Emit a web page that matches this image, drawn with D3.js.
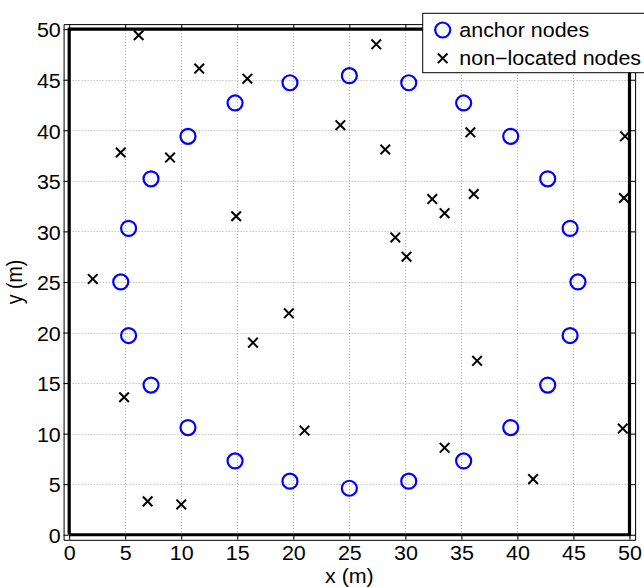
<!DOCTYPE html>
<html>
<head>
<meta charset="utf-8">
<script src="https://cdn.jsdelivr.net/npm/d3@7"></script>
<style>
  html, body { margin: 0; padding: 0; background: #fff; }
  svg { display: block; font-family: "Liberation Sans", Arial, Helvetica, sans-serif; }
</style>
</head>
<body>
<svg id="chart" width="644" height="587"></svg>
<script>
// Anchor node positions (m)
const anchorX = [25.0, 30.3, 35.2, 39.4, 42.7, 44.7, 45.4, 44.7, 42.7, 39.4, 35.2, 30.3,
                 25.0, 19.7, 14.8, 10.6, 7.3, 5.3, 4.6, 5.3, 7.3, 10.6, 14.8, 19.7];
const anchorY = [45.4, 44.7, 42.7, 39.4, 35.2, 30.3, 25.0, 19.7, 14.8, 10.6, 7.3, 5.3,
                 4.6, 5.3, 7.3, 10.6, 14.8, 19.7, 25.0, 30.3, 35.2, 39.4, 42.7, 44.7];

// Non-located node positions (m)
const nodeX = [6.2, 11.6, 15.9, 24.2, 4.6, 9.0, 14.9, 2.1,
               27.4, 35.8, 28.2, 49.6, 32.4, 36.1, 33.5, 49.5, 29.1, 30.1,
               19.6, 16.4, 4.9, 21.0, 7.0, 10.0,
               36.4, 33.5, 49.4, 41.4];
const nodeY = [49.4, 46.1, 45.1, 40.5, 37.8, 37.3, 31.5, 25.3,
               48.5, 39.8, 38.1, 39.4, 33.2, 33.7, 31.8, 33.3, 29.4, 27.5,
               21.9, 19.0, 13.6, 10.3, 3.3, 3.0,
               17.2, 8.6, 10.5, 5.5];

// Axis ticks
const xTicks = [0, 5, 10, 15, 20, 25, 30, 35, 40, 45, 50];
const yTicks = [0, 5, 10, 15, 20, 25, 30, 35, 40, 45, 50];

// Deployment field boundary
const fieldX = [0, 50, 50, 0, 0];
const fieldY = [0, 0, 50, 50, 0];

const legendLabels = ["anchor nodes", "non\u2212located nodes"];

const FS = 19.5;        // font size
const SX = 1.1;         // horizontal text stretch

const svg = d3.select("#chart");
svg.append("rect").attr("width", 644).attr("height", 587).attr("fill", "#fff");

const x = d3.scaleLinear().domain([-0.5, 50.5]).range([63.6, 635.1]);
const y = d3.scaleLinear().domain([-0.5, 50.5]).range([539.8, 24.1]);

const [x0, x1] = x.range();
const [y0, y1] = y.range();

// Dotted grid
const grid = svg.append("g")
  .attr("stroke", "#aaaaaa")
  .attr("stroke-width", 1)
  .attr("stroke-dasharray", "1,2");
grid.selectAll(".gx").data(xTicks).join("line")
  .attr("x1", d => Math.round(x(d)) + 0.5).attr("x2", d => Math.round(x(d)) + 0.5)
  .attr("y1", y1).attr("y2", y0);
grid.selectAll(".gy").data(yTicks).join("line")
  .attr("y1", d => Math.round(y(d)) + 0.5).attr("y2", d => Math.round(y(d)) + 0.5)
  .attr("x1", x0).attr("x2", x1);

// Axes with inward ticks
const TL = 5;
const gB = svg.append("g").attr("transform", `translate(0,${y0})`)
  .call(d3.axisBottom(x).tickValues(xTicks).tickSizeInner(-TL).tickSizeOuter(0).tickPadding(6));
const gT = svg.append("g").attr("transform", `translate(0,${y1})`)
  .call(d3.axisTop(x).tickValues(xTicks).tickSizeInner(-TL).tickSizeOuter(0).tickFormat(""));
const gL = svg.append("g").attr("transform", `translate(${x0},0)`)
  .call(d3.axisLeft(y).tickValues(yTicks).tickSizeInner(-TL).tickSizeOuter(0).tickPadding(2.6));
const gR = svg.append("g").attr("transform", `translate(${x1},0)`)
  .call(d3.axisRight(y).tickValues(yTicks).tickSizeInner(-TL).tickSizeOuter(0).tickFormat(""));

[gB, gT, gL, gR].forEach(g => {
  g.attr("font-family", null).attr("font-size", null);
  g.selectAll("path.domain").attr("stroke", "#000").attr("stroke-width", 1);
  g.selectAll(".tick line").attr("stroke", "#000").attr("stroke-width", 1);
  g.selectAll(".tick text")
    .attr("fill", "#000")
    .style("font-size", FS + "px")
    .attr("transform", `scale(${SX},1)`);
});
gL.selectAll(".tick text").attr("dy", "0.4em");

// Field boundary
svg.append("path")
  .datum(fieldX.map((d, i) => [d, fieldY[i]]))
  .attr("d", d3.line().x(d => x(d[0])).y(d => y(d[1])))
  .attr("fill", "none")
  .attr("stroke", "#000")
  .attr("stroke-width", 3.2)
  .attr("stroke-linejoin", "miter");

// Markers
const R = 7.5;
const H = 4.8;
const crossPath = `M${-H},${-H}L${H},${H}M${-H},${H}L${H},${-H}`;

svg.append("g").selectAll("circle")
  .data(anchorX.map((d, i) => [d, anchorY[i]]))
  .join("circle")
  .attr("cx", d => x(d[0]))
  .attr("cy", d => y(d[1]))
  .attr("r", R)
  .attr("fill", "none")
  .attr("stroke", "#0000ff")
  .attr("stroke-width", 2.2);

svg.append("g").selectAll("path")
  .data(nodeX.map((d, i) => [d, nodeY[i]]))
  .join("path")
  .attr("transform", d => `translate(${x(d[0])},${y(d[1])})`)
  .attr("d", crossPath)
  .attr("stroke", "#000")
  .attr("stroke-width", 2);

// Legend
const lg = svg.append("g");
lg.append("rect")
  .attr("x", 422.7).attr("y", 13.3)
  .attr("width", 260).attr("height", 59.4)
  .attr("fill", "#fff").attr("stroke", "#000").attr("stroke-width", 1);
lg.append("circle")
  .attr("cx", 442.7).attr("cy", 30).attr("r", R)
  .attr("fill", "none").attr("stroke", "#0000ff").attr("stroke-width", 2.2);
lg.append("path")
  .attr("transform", "translate(442.7,58.3)")
  .attr("d", crossPath)
  .attr("stroke", "#000").attr("stroke-width", 2);
lg.selectAll("text").data(legendLabels).join("text")
  .attr("transform", (d, i) => `translate(459.3,${i === 0 ? 36.7 : 65}) scale(${SX},1)`)
  .style("font-size", FS + "px")
  .attr("fill", "#000")
  .text(d => d);

// Axis titles
svg.append("text")
  .attr("transform", `translate(${(x0 + x1) / 2},583) scale(${SX},1)`)
  .attr("text-anchor", "middle")
  .style("font-size", FS + "px")
  .text("x (m)");
svg.append("text")
  .attr("transform", `translate(22,${(y0 + y1) / 2}) rotate(-90) scale(1,${SX})`)
  .attr("text-anchor", "middle")
  .style("font-size", FS + "px")
  .text("y (m)");
</script>
</body>
</html>
